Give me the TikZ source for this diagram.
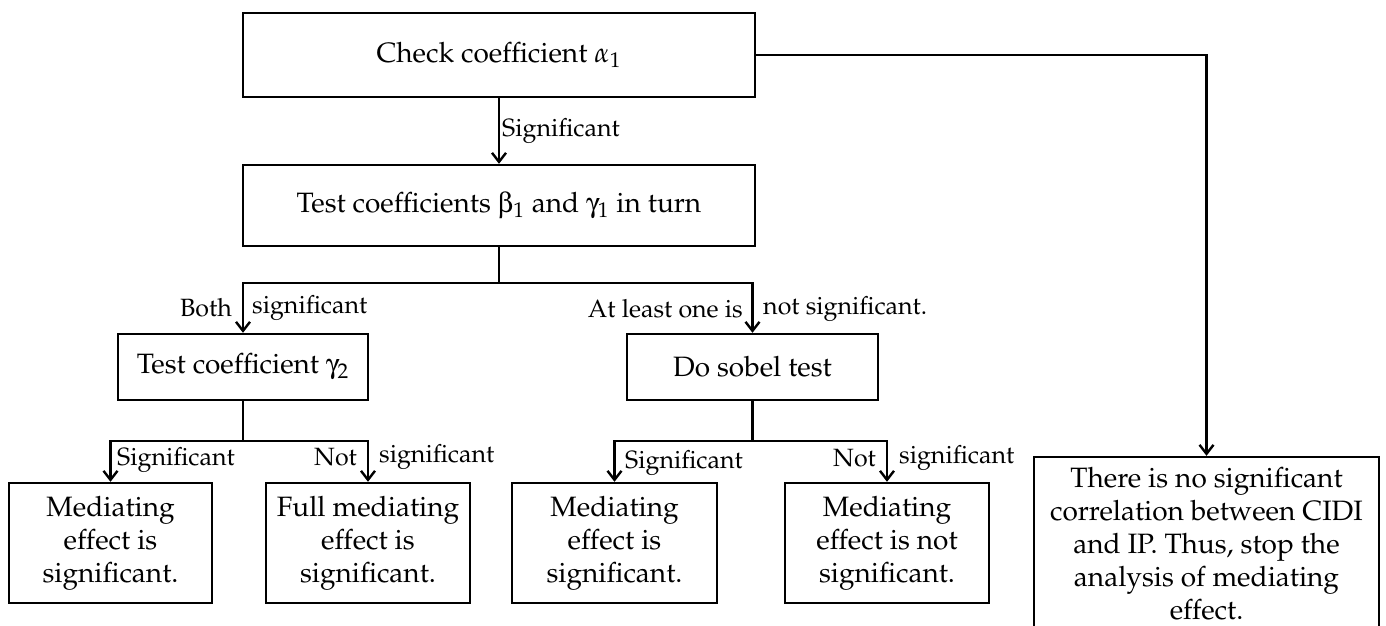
\documentclass[tikz,border=0pt]{standalone}
\usepackage[T1]{fontenc}
\usepackage{mathpazo}
\usepackage[Symbol]{upgreek}
\usetikzlibrary{arrows.meta}
\tikzset{every picture/.style={line width=1.2pt}}
\tikzset{
  box/.style={draw, align=center, inner sep=2pt, font=\fontsize{14}{16.5}\selectfont},
  lbl/.style={inner sep=1pt, font=\fontsize{12.5}{14}\selectfont},
  arr/.style={-{Straight Barb[length=4.5pt,width=7pt]}},
}

\begin{document}
\begin{tikzpicture}[x=0.5pt,y=-0.5pt]
\useasboundingbox (0,0) rectangle (1386,626);
\node[box, minimum width=256pt, minimum height=42pt] (chk) at (499,55) {Check coefficient $\alpha_1$};
\node[box, minimum width=256pt, minimum height=40.5pt] (tst) at (499,205.5) {Test coefficients $\upbeta_1$ and $\upgamma_1$ in turn};
%
\node[box, minimum width=125pt, minimum height=33pt] (gam) at (243,367) {Test coefficient $\upgamma_2$};
\node[box, minimum width=125.5pt, minimum height=33pt] (sob) at (752.5,367) {Do sobel test};
%
\node[box, minimum width=101.5pt, minimum height=60pt] (m1) at (110.5,543) {Mediating\\effect is\\significant.};
\node[box, minimum width=102pt, minimum height=60pt] (m2) at (368,543) {Full mediating\\effect is\\significant.};
\node[box, minimum width=102.5pt, minimum height=60pt] (m3) at (614.5,543) {Mediating\\effect is\\significant.};
\node[box, minimum width=102pt, minimum height=60pt] (m4) at (887,543) {Mediating\\effect is not\\significant.};
\node[box, minimum width=172.5pt, minimum height=87pt] (stop) at (1206.5,544) {There is no significant\\correlation between CIDI\\and IP. Thus, stop the\\analysis of mediating\\effect.};
%
\coordinate (b1) at (499,283);
\coordinate (b2) at (243,441);
\coordinate (b3) at (752.5,441);
%
\draw[arr] (chk) -- node[lbl, right] (l0) {Significant} (tst);
\draw (tst) -- (b1);
\draw[arr] (b1) -| (gam);
\draw[arr] (b1) -| (sob);
\node[lbl, anchor=east] (l1) at (235,308) {Both};
\node[lbl, anchor=west] (l2) at (249,308) {significant};
\node[lbl, anchor=east] (l3) at (746,309) {At least one is};
\node[lbl, anchor=west] (l4) at (760,309) {not significant.};
%
\draw (gam) -- (b2);
\draw[arr] (b2) -| (m1);
\draw[arr] (b2) -| (m2);
\node[lbl, anchor=west] (l5) at (114,460) {Significant};
\node[lbl, anchor=east] (l6) at (360,457) {Not};
\node[lbl, anchor=west] (l7) at (376,457) {significant};
%
\draw (sob) -- (b3);
\draw[arr] (b3) -| (m3);
\draw[arr] (b3) -| (m4);
\node[lbl, anchor=west] (l8) at (622,463) {Significant};
\node[lbl, anchor=east] (l9) at (879,458) {Not};
\node[lbl, anchor=west] (l10) at (896,458) {significant};
%
\draw[arr] (chk) -| (stop);
\end{tikzpicture}
\end{document}
